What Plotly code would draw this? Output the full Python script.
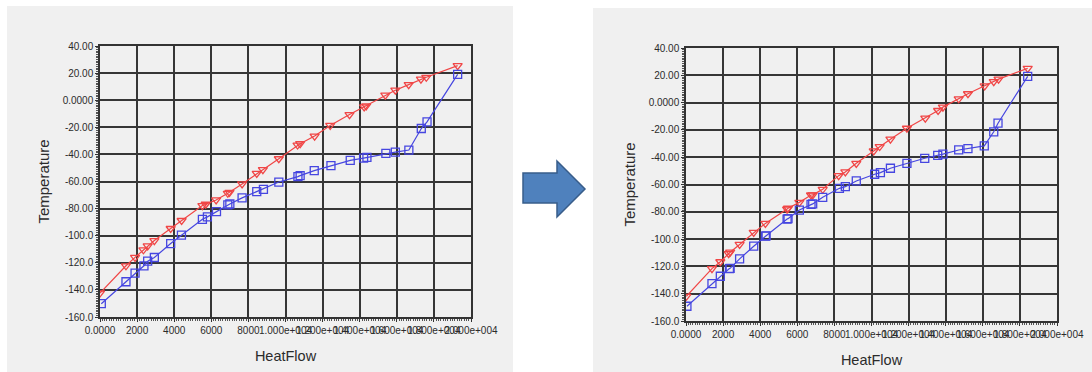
import plotly.graph_objects as go

# ---------------- data ----------------
x_ticks = [0, 2000, 4000, 6000, 8000, 10000, 12000, 14000, 16000, 18000, 20000]
x_ticktext = ["0.0000", "2000", "4000", "6000", "8000", "1.000e+004", "1.200e+004",
              "1.400e+004", "1.600e+004", "1.800e+004", "2.000e+004"]
y_ticks = [-160, -140, -120, -100, -80, -60, -40, -20, 0, 20, 40]
y_ticktext = ["-160.0", "-140.0", "-120.0", "-100.0", "-80.00", "-60.00", "-40.00",
              "-20.00", "0.0000", "20.00", "40.00"]

# left chart (before)
left_red_x = [0, 1400, 1890, 2340, 2570, 2930, 3810, 4400, 5520, 5700, 6260, 6890, 6980, 7660,
              8450, 8780, 9640, 10650, 10790, 11570, 12410, 13450, 14240, 14350, 15380, 15920,
              16640, 17300, 17590, 19280]
left_red_y = [-142.3, -122.2, -116.0, -110.4, -107.5, -103.6, -94.7, -88.8, -77.8, -76.8, -73.6,
              -68.7, -68.0, -61.8, -54.0, -51.3, -43.2, -33.1, -32.1, -26.5, -18.6, -10.6, -4.9,
              -4.2, 3.7, 7.4, 11.5, 15.5, 16.9, 25.5]
left_blue_x = [70, 1400, 1890, 2370, 2570, 2930, 3810, 4390, 5520, 5790, 6280, 6890, 7000, 7660,
               8450, 8810, 9640, 10670, 10790, 11550, 12450, 13490, 14210, 14390, 15410, 15920,
               16650, 17320, 17630, 19280]
left_blue_y = [-150.2, -134.0, -127.6, -122.2, -118.8, -116.1, -105.8, -99.6, -87.9, -86.1, -82.2,
               -77.3, -76.6, -72.1, -67.5, -65.8, -60.4, -56.4, -55.7, -52.0, -48.3, -44.4, -42.7,
               -42.2, -39.3, -38.3, -36.8, -20.9, -16.0, 19.1]

# right chart (after)
right_red_x = [20, 1400, 1850, 2300, 2380, 2890, 3650, 4280, 5450, 5500, 6110, 6740, 6830, 7370,
               8230, 8590, 9180, 10120, 10440, 11020, 11910, 12900, 13590, 13850, 14700, 15200,
               16100, 16590, 16850, 18420]
right_red_y = [-141.9, -121.6, -116.6, -110.6, -109.6, -103.9, -95.1, -88.5, -78.0, -77.4, -73.1,
               -67.7, -67.6, -63.5, -53.5, -50.8, -44.5, -35.4, -32.2, -26.8, -18.8, -11.4, -5.8,
               -3.3, 2.8, 6.5, 12.3, 15.3, 17.2, 25.1]
right_blue_x = [50, 1400, 1850, 2340, 2380, 2890, 3650, 4280, 4320, 5450, 5500, 6110, 6740, 6830,
                7370, 8270, 8590, 9180, 10170, 10480, 11020, 11910, 12870, 13570, 13850, 14700,
                15200, 16080, 16590, 16820, 18420]
right_blue_y = [-149.2, -132.6, -127.2, -121.6, -121.4, -114.5, -105.2, -97.8, -97.6, -85.3, -85.0,
                -78.7, -74.6, -74.2, -69.4, -62.8, -61.6, -57.4, -52.5, -51.3, -48.1, -44.5,
                -40.8, -38.6, -37.8, -34.7, -33.7, -31.7, -21.4, -15.1, 19.2]

# ---------------- layout constants ----------------
W, H = 1092, 372
RED = "#F04646"
BLUE = "#4646E0"
PANEL = "#F0F0F0"
GRID = "#363636"
TXT = "#2b2b2b"
FONT = "Liberation Sans, Arial, sans-serif"


def px_x(p):
    return p / W


def px_y(p):
    return 1 - p / H


fig = go.Figure()

def add_series(xs, ys, color, symbol, xa, ya, name):
    fig.add_trace(go.Scatter(
        x=xs, y=ys, mode="lines+markers", name=name, xaxis=xa, yaxis=ya,
        line=dict(color=color, width=1.2),
        marker=dict(symbol=symbol, size=8, color=color, line=dict(color=color, width=1.3)),
        showlegend=False,
    ))

add_series(left_red_x, left_red_y, RED, "triangle-down-open", "x", "y", "Hot")
add_series(left_blue_x, left_blue_y, BLUE, "square-open", "x", "y", "Cold")
add_series(right_red_x, right_red_y, RED, "triangle-down-open", "x2", "y2", "Hot")
add_series(right_blue_x, right_blue_y, BLUE, "square-open", "x2", "y2", "Cold")

common_x = dict(
    range=[0, 20000], tickmode="array", tickvals=x_ticks, ticktext=x_ticktext, tickangle=0,
    showgrid=True, gridcolor=GRID, gridwidth=1.9, zeroline=False,
    showline=True, linecolor="#333333", linewidth=1.5, mirror=True,
    ticks="outside", ticklen=3, tickcolor="#333333",
    minor=dict(dtick=125, ticks="outside", ticklen=2, tickcolor="#555555", showgrid=False),
    tickfont=dict(family=FONT, size=10, color=TXT),
    title=dict(text="HeatFlow", font=dict(family=FONT, size=14.5, color=TXT), standoff=16),
    automargin=False, fixedrange=True,
)
common_y = dict(
    range=[-160, 40], tickmode="array", tickvals=y_ticks, ticktext=y_ticktext,
    showgrid=True, gridcolor=GRID, gridwidth=1.9, zeroline=False,
    showline=True, linecolor="#333333", linewidth=1.5, mirror=True,
    ticks="outside", ticklen=3, tickcolor="#333333",
    minor=dict(dtick=1.25, ticks="outside", ticklen=2, tickcolor="#555555", showgrid=False),
    tickfont=dict(family=FONT, size=10, color=TXT),
    title=dict(text="Temperature", font=dict(family=FONT, size=15, color=TXT), standoff=9),
    automargin=False, fixedrange=True,
)

fig.update_layout(
    width=W, height=H, margin=dict(l=0, r=0, t=0, b=0),
    paper_bgcolor="white", plot_bgcolor=PANEL,
    xaxis=dict(common_x, domain=[px_x(100), px_x(471)], anchor="y"),
    yaxis=dict(common_y, domain=[px_y(317), px_y(46)], anchor="x"),
    xaxis2=dict(common_x, domain=[px_x(686), px_x(1057)], anchor="y2"),
    yaxis2=dict(common_y, domain=[px_y(321), px_y(48)], anchor="x2"),
)

shapes = [
    # gray panels
    dict(type="rect", xref="paper", yref="paper", x0=px_x(7), x1=px_x(513), y0=0, y1=px_y(6),
         fillcolor=PANEL, line=dict(width=0), layer="below"),
    dict(type="rect", xref="paper", yref="paper", x0=px_x(593), x1=1, y0=0, y1=px_y(8),
         fillcolor=PANEL, line=dict(width=0), layer="below"),
]

# arrow between panels
arrow_pts = [(523, 173), (557, 173), (557, 161), (585, 189), (557, 217), (557, 203), (523, 203)]
path = "M " + " L ".join(f"{px_x(a):.5f},{px_y(b):.5f}" for a, b in arrow_pts) + " Z"
shapes.append(dict(type="path", xref="paper", yref="paper", path=path,
                   fillcolor="#4F81BD", line=dict(color="#385D8A", width=1.5), layer="above"))
fig.update_layout(shapes=shapes)

fig.write_html("out.html", config={"displayModeBar": False},
               post_script="document.body.style.margin='0';")
